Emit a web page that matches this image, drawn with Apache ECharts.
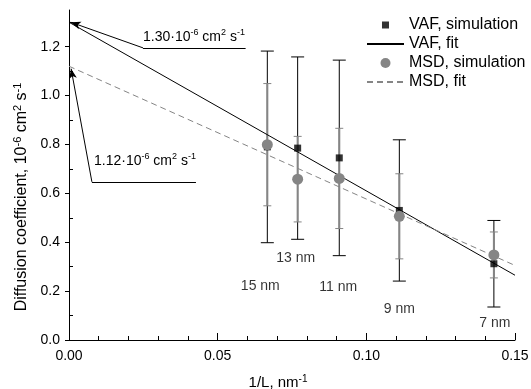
<!DOCTYPE html>
<html>
<head>
<meta charset="utf-8">
<script src="https://cdn.jsdelivr.net/npm/echarts@6/dist/echarts.min.js"></script>
<style>
html,body{margin:0;padding:0;background:#fff;}
#chart{width:531px;height:389px;}
</style>
</head>
<body>
<div id="chart"></div>
<script>
// ---------- data ----------
const sizeLabels = ['15 nm', '13 nm', '11 nm', '9 nm', '7 nm'];
const invL = [0.0667, 0.0769, 0.0909, 0.1111, 0.1429];
const vafValue = [0.790, 0.785, 0.745, 0.530, 0.312];
const vafError = [0.392, 0.373, 0.400, 0.289, 0.177];
const msdValue = [0.799, 0.658, 0.661, 0.506, 0.348];
const msdError = [0.250, 0.175, 0.205, 0.174, 0.094];
const vafFitX = [0, 0.15];
const vafFitY = [1.30, 0.265];
const msdFitX = [0, 0.15];
const msdFitY = [1.12, 0.305];
const xTicks = [0, 0.05, 0.10, 0.15];
const xMinorTicks = [0.01, 0.02, 0.03, 0.04, 0.06, 0.07, 0.08, 0.09, 0.11, 0.12, 0.13, 0.14];
const yTicks = [0, 0.2, 0.4, 0.6, 0.8, 1.0, 1.2];
const yMinorTicks = [0.1, 0.3, 0.5, 0.7, 0.9, 1.1, 1.3];

// ---------- layout (positions of annotation texts, not data) ----------
const labelY = [0.222, 0.335, 0.218, 0.127, 0.070];
const labelDx = [-7, -2, -1, 0, 1];

const FONT = '"Liberation Sans", Arial, sans-serif';
const GREY = '#858585';

const vafBars = invL.map((x, i) => [x, vafValue[i] - vafError[i], vafValue[i] + vafError[i]]);
const msdBars = invL.map((x, i) => [x, msdValue[i] - msdError[i], msdValue[i] + msdError[i]]);

function errRender(color, width, capHalf) {
  return function (params, api) {
    const x = api.value(0);
    const p1 = api.coord([x, api.value(1)]);
    const p2 = api.coord([x, api.value(2)]);
    const st = { stroke: color, lineWidth: width };
    return {
      type: 'group',
      children: [
        { type: 'line', shape: { x1: p1[0], y1: p1[1], x2: p2[0], y2: p2[1] }, style: st },
        { type: 'line', shape: { x1: p1[0] - capHalf, y1: p1[1], x2: p1[0] + capHalf, y2: p1[1] }, style: { stroke: color, lineWidth: 1 } },
        { type: 'line', shape: { x1: p2[0] - capHalf, y1: p2[1], x2: p2[0] + capHalf, y2: p2[1] }, style: { stroke: color, lineWidth: 1 } }
      ]
    };
  };
}

const rich = (n, s) => ({
  n: { fontSize: n, lineHeight: n + 3, fontFamily: FONT, color: '#000' },
  s: { fontSize: s, lineHeight: s, fontFamily: FONT, color: '#000', verticalAlign: 'top' }
});

const chart = echarts.init(document.getElementById('chart'));
chart.setOption({
  animation: false,
  backgroundColor: '#fff',
  textStyle: { fontFamily: FONT },
  grid: { left: 69, right: 16, top: 10, bottom: 49, outerBoundsMode: 'none' },
  legend: {
    orient: 'vertical',
    left: 361,
    top: 12,
    itemWidth: 37,
    itemHeight: 10,
    itemGap: 3,
    textStyle: { fontSize: 16, color: '#000', fontFamily: FONT },
    data: [
      { name: 'VAF, simulation', icon: 'path://M0,0L0.01,0M10,10L10.01,10M1.5,1.5h7v7h-7z' },
      { name: 'VAF, fit', itemStyle: { opacity: 0 } },
      { name: 'MSD, simulation', icon: 'circle' },
      { name: 'MSD, fit', itemStyle: { opacity: 0 } }
    ]
  },
  xAxis: [{
    type: 'value', min: 0, max: 0.15, interval: 0.05,
    axisLine: { lineStyle: { color: '#000', width: 1 } },
    axisTick: { inside: true, length: 7, lineStyle: { color: '#000' }, customValues: xTicks },
    splitLine: { show: false },
    axisLabel: { fontSize: 14, color: '#000', margin: 9, customValues: xTicks, formatter: v => v.toFixed(2) }
  }, {
    type: 'value', min: 0, max: 0.15, position: 'bottom',
    axisLine: { show: false },
    axisTick: { show: true, inside: true, length: 4, lineStyle: { color: '#000' }, customValues: xMinorTicks },
    axisLabel: { show: false },
    splitLine: { show: false }
  }],
  yAxis: [{
    type: 'value', min: 0, max: 1.35, interval: 0.2,
    axisLine: { show: true, lineStyle: { color: '#000', width: 1 } },
    axisTick: { show: true, length: 4, lineStyle: { color: '#000' }, customValues: yTicks },
    splitLine: { show: false },
    axisLabel: { fontSize: 14, color: '#000', margin: 9, customValues: yTicks, formatter: v => v.toFixed(1) }
  }, {
    type: 'value', min: 0, max: 1.35, position: 'left',
    axisLine: { show: false },
    axisTick: { show: true, inside: true, length: 4, lineStyle: { color: '#000' }, customValues: yMinorTicks },
    axisLabel: { show: false },
    splitLine: { show: false }
  }],
  series: [
    {
      name: 'VAF error', type: 'custom', silent: true, z: 2,
      renderItem: errRender('#000', 1, 6.5),
      encode: { x: 0, y: [1, 2] },
      data: vafBars
    },
    {
      name: 'MSD error', type: 'custom', silent: true, z: 3,
      renderItem: errRender(GREY, 2, 4),
      encode: { x: 0, y: [1, 2] },
      data: msdBars
    },
    {
      name: 'VAF, fit', type: 'line', symbol: 'none', z: 4,
      lineStyle: { color: '#000', width: 1 }, itemStyle: { color: '#000' },
      data: vafFitX.map((x, i) => [x, vafFitY[i]]),
      markLine: {
        silent: true, symbol: 'none', animation: false,
        lineStyle: { color: '#000', width: 1, type: 'solid' },
        label: { show: false },
        data: [
          [{ coord: [0.0249, 1.195], symbol: 'none' }, { coord: [0.0594, 1.195], symbol: 'none' }],
          [{ coord: [0.0249, 1.195], symbol: 'none' }, { coord: [0.0006, 1.30], symbol: 'arrow', symbolSize: [6, 10] }],
          [{ coord: [0.0077, 0.647], symbol: 'none' }, { coord: [0.0427, 0.647], symbol: 'none' }],
          [{ coord: [0.0077, 0.647], symbol: 'none' }, { coord: [0.0007, 1.11], symbol: 'arrow', symbolSize: [6, 10] }]
        ]
      }
    },
    {
      name: 'MSD, fit', type: 'line', symbol: 'none', z: 4,
      lineStyle: { color: GREY, width: 1, type: [6, 4] }, itemStyle: { color: GREY },
      data: msdFitX.map((x, i) => [x, msdFitY[i]])
    },
    {
      name: 'VAF, simulation', type: 'scatter', symbol: 'rect', symbolSize: 7, z: 5,
      itemStyle: { color: '#000' },
      data: invL.map((x, i) => [x, vafValue[i]])
    },
    {
      name: 'MSD, simulation', type: 'scatter', symbol: 'circle', symbolSize: 11, z: 6,
      itemStyle: { color: GREY, opacity: 1 },
      data: invL.map((x, i) => [x, msdValue[i]])
    },
    {
      name: 'sizes', type: 'scatter', symbolSize: 0, silent: true, z: 7,
      label: { show: true, position: 'inside', fontSize: 14, color: '#000', fontFamily: FONT,
        formatter: p => p.name },
      data: invL.map((x, i) => ({ name: sizeLabels[i], value: [x, labelY[i]], label: { offset: [labelDx[i], 0] } }))
    }
  ],
  graphic: [
    {
      type: 'text', x: 143, y: 37,
      style: { text: '{n|1.30·10}{s|-6}{n| cm}{s|2}{n| s}{s|-1}', rich: rich(14, 9), verticalAlign: 'middle', align: 'left' }
    },
    {
      type: 'text', x: 94, y: 161,
      style: { text: '{n|1.12·10}{s|-6}{n| cm}{s|2}{n| s}{s|-1}', rich: rich(14, 9), verticalAlign: 'middle', align: 'left' }
    },
    {
      type: 'text', x: 22, y: 197, rotation: Math.PI / 2,
      style: { text: '{n|Diffusion coefficient, 10}{s|-6}{n| cm}{s|2}{n| s}{s|-1}', rich: rich(16, 11), verticalAlign: 'middle', align: 'center' }
    },
    {
      type: 'text', x: 278, y: 383,
      style: { text: '{n|1/L, nm}{s|-1}', rich: rich(15, 10), verticalAlign: 'middle', align: 'center' }
    }
  ]
});
</script>
</body>
</html>
